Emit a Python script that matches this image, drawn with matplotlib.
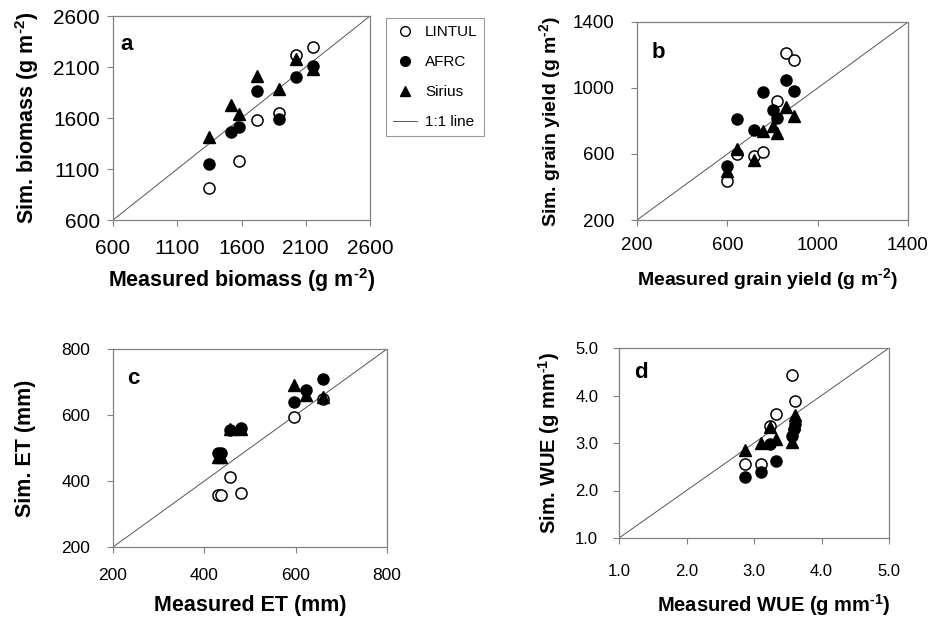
import numpy as np
import matplotlib
matplotlib.use("Agg")
import matplotlib.pyplot as plt
from matplotlib.lines import Line2D

plt.rcParams['font.family'] = ['Liberation Sans', 'DejaVu Sans']
plt.rcParams['mathtext.fontset'] = 'custom'
plt.rcParams['mathtext.rm'] = 'Liberation Sans'
plt.rcParams['mathtext.bf'] = 'Liberation Sans:bold'

# panel a - biomass (g m-2)
meas_biomass = [1350, 1520, 1577, 1724, 1895, 2025, 2159]
lintul_biomass = [910, np.nan, 1178, 1579, 1651, 2222, 2297]
afrc_biomass = [1145, 1458, 1507, 1866, 1589, 2003, 2107]
sirius_biomass = [1416, 1732, 1644, 2010, 1889, 2183, 2085]

# panel b - grain yield (g m-2)
meas_yield = [600, 642, 719, 757, 800, 822, 860, 897]
lintul_yield = [434, 602, 586, 612, np.nan, 919, 1212, 1168]
afrc_yield = [529, 812, 747, 974, 869, 818, 1046, 980]
sirius_yield = [495, 630, 562, 737, 768, 727, 885, 832]

# panel c - ET (mm)
meas_et = [430, 437, 456, 480, 597, 623, 659]
lintul_et = [357, 357, 411, 363, 595, np.nan, 649]
afrc_et = [484, 484, 555, 560, 638, 676, 709]
sirius_et = [474, 474, 557, 557, 692, 661, 656]

# panel d - WUE (g mm-1)
meas_wue = [2.86, 3.10, 3.23, 3.33, 3.57, 3.59, 3.60]
lintul_wue = [2.56, 2.56, 3.35, 3.61, 4.44, np.nan, 3.88]
afrc_wue = [2.28, 2.40, 2.98, 2.63, 3.14, 3.30, 3.39]
sirius_wue = [2.86, 2.99, 3.33, 3.09, 3.03, 3.40, 3.60]

W, H = 932, 619
fig = plt.figure(figsize=(W / 100, H / 100), dpi=100)
HY = '\u2010'  # plain hyphen for the superscripts


def sup(s):
    return r'$^{\mathbf{' + s + '}}$'


def panel(px, x, lin, afr, sir, lo, hi, step, letter, letter_xy, xlabel, ylabel,
          tsize, lsize, xpad, ypad, xlab_xy, ylab_x, fmt="{:.0f}"):
    x0, y0, x1, y1 = px
    w, h = x1 - x0, y1 - y0
    ax = fig.add_axes([x0 / W, 1 - y1 / H, w / W, h / H])
    ax.plot([lo, hi], [lo, hi], color='#555555', lw=0.7, zorder=1)
    ax.plot(x, lin, 'o', ms=8, mfc='white', mec='black', mew=1.1, ls='none', zorder=3)
    ax.plot(x, afr, 'o', ms=8, mfc='black', mec='black', ls='none', zorder=3)
    ax.plot(x, sir, '^', ms=8.5, mfc='black', mec='black', ls='none', zorder=3)
    ax.set_xlim(lo, hi)
    ax.set_ylim(lo, hi)
    ticks = np.arange(lo, hi + step / 2, step)
    ax.set_xticks(ticks)
    ax.set_yticks(ticks)
    ax.set_xticklabels([fmt.format(t) for t in ticks])
    ax.set_yticklabels([fmt.format(t) for t in ticks])
    ax.tick_params(direction='out', length=4, width=0.8, color='#808080',
                   labelsize=tsize)
    ax.tick_params(axis='x', pad=xpad)
    ax.tick_params(axis='y', pad=ypad)
    for s in ax.spines.values():
        s.set_color('#808080')
        s.set_linewidth(0.9)
    ax.text(letter_xy[0], letter_xy[1], letter, transform=ax.transAxes, fontsize=16,
            fontweight='bold', va='center')
    ax.set_xlabel(xlabel, fontsize=lsize, fontweight='bold', va='center')
    ax.set_ylabel(ylabel, fontsize=lsize, fontweight='bold', va='center')
    ax.xaxis.set_label_coords(xlab_xy[0], -xlab_xy[1] / h)
    ax.yaxis.set_label_coords(-ylab_x / w, 0.5)
    return ax


panel((113, 16, 370, 220), meas_biomass, lintul_biomass, afrc_biomass, sirius_biomass,
      600, 2600, 500, 'a', (0.03, 0.86),
      'Measured biomass (g m' + sup(HY + '2') + ')', 'Sim. biomass (g m' + sup(HY + '2') + ')',
      15, 15.5, 10, 5.5, (0.5, 60), 86)
panel((637, 22, 908, 220), meas_yield, lintul_yield, afrc_yield, sirius_yield,
      200, 1400, 400, 'b', (0.055, 0.845),
      'Measured grain yield (g m' + sup(HY + '2') + ')', 'Sim. grain yield (g m' + sup(HY + '2') + ')',
      13.5, 14, 8, 12, (0.48, 60), 86)
panel((113, 349, 387, 547), meas_et, lintul_et, afrc_et, sirius_et,
      200, 800, 200, 'c', (0.05, 0.85),
      'Measured ET (mm)', 'Sim. ET (mm)',
      12.5, 15.5, 11, 12.5, (0.5, 58), 88)
panel((619, 348, 889, 538), meas_wue, lintul_wue, afrc_wue, sirius_wue,
      1.0, 5.0, 1.0, 'd', (0.055, 0.87),
      'Measured WUE (g mm' + sup(HY + '1') + ')', 'Sim. WUE (g mm' + sup(HY + '1') + ')',
      12, 14.5, 15, 11, (0.574, 67), 70, fmt="{:.1f}")

handles = [
    Line2D([], [], marker='o', ls='none', ms=7, mfc='white', mec='black'),
    Line2D([], [], marker='o', ls='none', ms=7, mfc='black', mec='black'),
    Line2D([], [], marker='^', ls='none', ms=7, mfc='black', mec='black'),
    Line2D([], [], color='#555555', lw=0.7),
]
leg = fig.legend(handles, ['LINTUL', 'AFRC', 'Sirius', '1:1 line'],
                 loc='upper left', bbox_to_anchor=(386 / W, 1 - 18 / H),
                 fontsize=11, frameon=True, fancybox=False, labelspacing=1.05,
                 handlelength=1.6, handletextpad=0.5, borderpad=0.45,
                 borderaxespad=0)
leg.get_frame().set_edgecolor('#808080')
leg.get_frame().set_linewidth(0.8)

fig.savefig('out.png', dpi=100)
